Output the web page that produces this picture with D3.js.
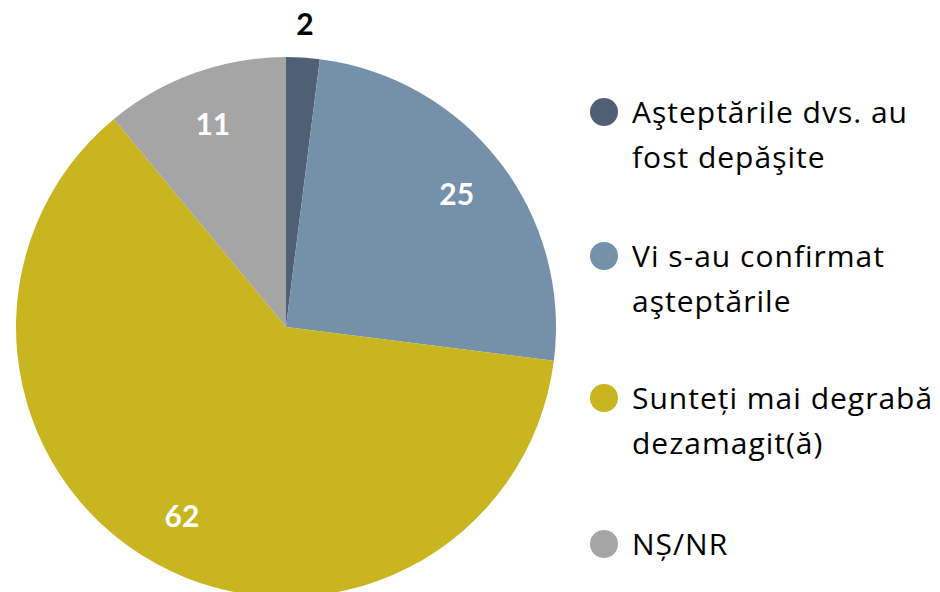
<!DOCTYPE html>
<html>
<head>
<meta charset="utf-8">
<script src="https://cdn.jsdelivr.net/npm/d3@7"></script>
<style>
  body { margin: 0; background: #fff; }
  svg text { font-family: Lato, "Open Sans", sans-serif; }
  svg text.legend-text { font-family: "Open Sans", sans-serif; }
</style>
</head>
<body>
<div id="chart"></div>
<script>
// data
var categories = ['Aşteptările dvs. au fost depăşite', 'Vi s-au confirmat aşteptările', 'Sunteţi mai degrabă dezamagit(ă)', 'NȘ/NR'];
var legendLines = [['Aşteptările dvs. au', 'fost depăşite'], ['Vi s-au confirmat', 'aşteptările'], ['Sunteți mai degrabă', 'dezamagit(ă)'], ['NȘ/NR']];
var values = [2, 25, 62, 11];
var colors = ['#4f6075', '#7591aa', '#c9b520', '#a5a5a5'];

var width = 940, height = 592;
var cx = 286, cy = 327, radius = 270;

var svg = d3.select('#chart').append('svg')
          .attr('width', width)
          .attr('height', height);

var pie = d3.pie().sort(null).value(function(d) { return d; });
var arcs = pie(values);

var arc = d3.arc().innerRadius(0).outerRadius(radius);
var labelArc = d3.arc().innerRadius(radius * 0.8).outerRadius(radius * 0.8);
var outerArc = d3.arc().innerRadius(303).outerRadius(303);

var g = svg.append('g').attr('transform', 'translate(' + cx + ',' + cy + ')');

g.selectAll('path.slice')
  .data(arcs)
  .enter().append('path')
  .attr('class', 'slice')
  .attr('d', arc)
  .style('fill', function(d, i) { return colors[i]; });

g.selectAll('text.lbl')
  .data(arcs)
  .enter().append('text')
  .attr('class', 'lbl')
  .attr('transform', function(d) {
    var c = d.data < 5 ? outerArc.centroid(d) : labelArc.centroid(d);
    return 'translate(' + c + ')';
  })
  .attr('text-anchor', 'middle')
  .attr('dy', '0.36em')
  .style('font-size', '30px')
  .style('font-weight', 'bold')
  .style('fill', function(d) { return d.data < 5 ? '#000' : '#fff'; })
  .text(function(d) { return d.data; });

// legend
var legendY = [112, 256, 398, 544];
var legend = svg.append('g');
var items = legend.selectAll('g.item')
  .data(categories)
  .enter().append('g')
  .attr('class', 'item')
  .attr('transform', function(d, i) { return 'translate(604,' + legendY[i] + ')'; });

items.append('circle')
  .attr('r', 14)
  .attr('cx', 0)
  .attr('cy', 0)
  .style('fill', function(d, i) { return colors[i]; });

items.append('text')
  .attr('class', 'legend-text')
  .attr('x', 28)
  .attr('y', 0)
  .style('font-size', '30px')
  .style('letter-spacing', '1px')
  .style('fill', '#000')
  .selectAll('tspan')
  .data(function(d, i) { return legendLines[i]; })
  .enter().append('tspan')
  .attr('x', 28)
  .attr('y', function(d, j) { return j * 45; })
  .attr('dy', '0.36em')
  .text(function(d) { return d; });
</script>
</body>
</html>
